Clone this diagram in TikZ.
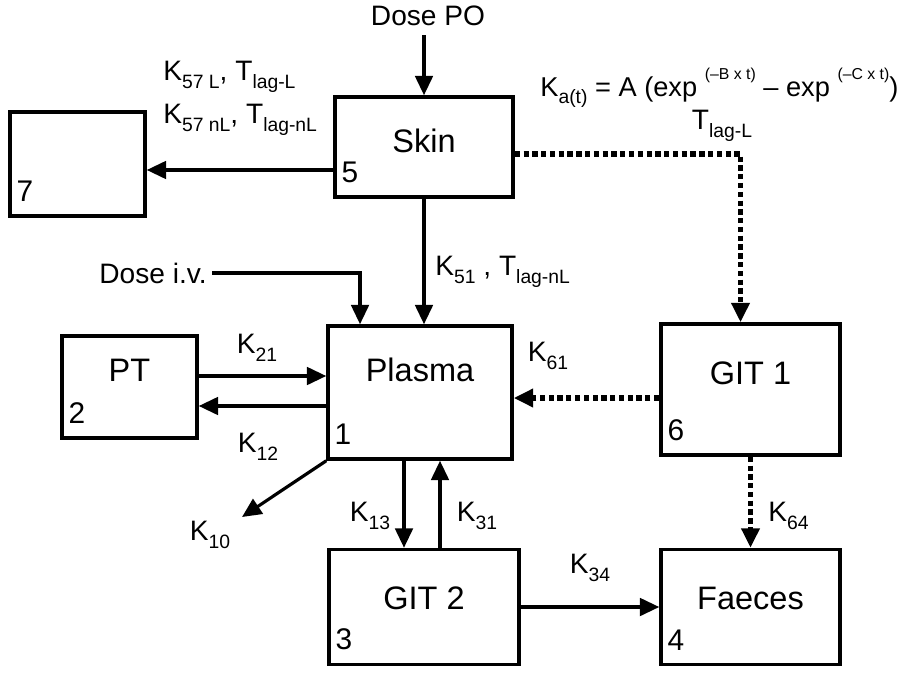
\documentclass[tikz,border=0pt]{standalone}
\usepackage{fontspec}
\setmainfont{Liberation Sans}
\usetikzlibrary{arrows.meta, positioning}
\newcommand{\lowtxt}[1]{\raisebox{-0.5ex}{\fontsize{11}{11}\selectfont #1}}
\newcommand{\hightxt}[1]{\raisebox{1.2ex}{\fontsize{9}{9}\selectfont #1}}

\begin{document}
\begin{tikzpicture}[
    x=0.02cm, y=-0.02cm,
    box/.style={draw, line width=2pt, inner sep=0pt},
    ttl/.style={font=\fontsize{18.5}{21}\selectfont, inner sep=0pt},
    num/.style={font=\fontsize{17}{20}\selectfont, anchor=south west,
                inner xsep=4.5pt, inner ysep=9pt},
    lbl/.style={font=\fontsize{16}{19}\selectfont, inner sep=0pt},
    arr/.style={-{Triangle[length=11pt, width=10pt]}, line width=1.8pt},
    dot/.style={arr, line width=3pt, dash pattern=on 3pt off 2pt}
]
    \useasboundingbox (0,0) rectangle (911,696);

    \node[box, minimum width=2.70cm, minimum height=2.08cm] (n7)     at (77.5,164)   {};
    \node[box, minimum width=3.56cm, minimum height=2.00cm] (skin)   at (424,147)    {};
    \node[box, minimum width=2.70cm, minimum height=2.04cm] (pt)     at (129.5,387)  {};
    \node[box, minimum width=3.68cm, minimum height=2.66cm] (plasma) at (420,392.5)  {};
    \node[box, minimum width=3.58cm, minimum height=2.62cm] (git1)   at (750.5,389.5){};
    \node[box, minimum width=3.80cm, minimum height=2.30cm] (git2)   at (424,607)    {};
    \node[box, minimum width=3.58cm, minimum height=2.30cm] (faeces) at (750.5,607)  {};

    \node[ttl] (tskin)   at ([yshift=-0.92cm]skin.north)   {Skin};
    \node[ttl] (tpt)     at ([yshift=-0.72cm]pt.north)     {PT};
    \node[ttl] (tplasma) at ([yshift=-0.92cm]plasma.north) {Plasma};
    \node[ttl] (tgit1)   at ([yshift=-1.02cm]git1.north)   {GIT 1};
    \node[ttl] (tgit2)   at ([yshift=-1.02cm]git2.north)   {GIT 2};
    \node[ttl] (tfaeces) at ([yshift=-1.02cm]faeces.north) {Faeces};

    \node[num] (c7) at (n7.south west)     {7};
    \node[num] (c5) at (skin.south west)   {5};
    \node[num] (c2) at (pt.south west)     {2};
    \node[num] (c1) at (plasma.south west) {1};
    \node[num] (c6) at (git1.south west)   {6};
    \node[num] (c3) at (git2.south west)   {3};
    \node[num] (c4) at (faeces.south west) {4};

    \node[lbl] (dosepo) at (428,16)  {Dose PO};
    \node[lbl] (doseiv) at (153,273) {Dose i.v.};

    \node[lbl, anchor=west] (k57l)  at (163,77)
        {K\lowtxt{57 L}, T\lowtxt{lag-L}};
    \node[lbl, anchor=west] (k57nl) at (163,120)
        {K\lowtxt{57 nL}, T\lowtxt{lag-nL}};
    \node[lbl, anchor=west, font=\fontsize{15.5}{18}\selectfont] (ka) at (540,88)
        {K\lowtxt{a(t)} = A (exp \hightxt{(–B x t)} – exp \hightxt{(–C x t)})};
    \node[lbl] (tlagl) at (722,126) {T\lowtxt{lag-L}};
    \node[lbl, anchor=west] (k51) at (435,272) {K\lowtxt{51} , T\lowtxt{lag-nL}};
    \node[lbl] (k21) at (257,348) {K\lowtxt{21}};
    \node[lbl] (k12) at (258,447) {K\lowtxt{12}};
    \node[lbl] (k10) at (210,535) {K\lowtxt{10}};
    \node[lbl] (k13) at (370,516) {K\lowtxt{13}};
    \node[lbl] (k31) at (477,516) {K\lowtxt{31}};
    \node[lbl] (k61) at (548,356) {K\lowtxt{61}};
    \node[lbl, anchor=west] (k64) at (768,516) {K\lowtxt{64}};
    \node[lbl] (k34) at (590,568) {K\lowtxt{34}};

    \coordinate (s7) at ([yshift=-0.46cm]skin.west);
    \coordinate (sg) at ([yshift=-0.14cm]skin.east);
    \coordinate (gt) at ([xshift=-0.2cm]git1.north);
    \coordinate (gp) at ([yshift=-0.17cm]git1.west);
    \coordinate (pp) at ([yshift=0.22cm]pt.east);
    \coordinate (pq) at ([yshift=-0.38cm]pt.east);
    \coordinate (pg) at ([xshift=-0.32cm]plasma.south);
    \coordinate (gq) at ([xshift=0.4cm]plasma.south);
    \coordinate (iv) at ([xshift=-1.2cm]plasma.north);
    \coordinate (ke) at (242,517);

    \draw[arr, shorten <=5pt] (dosepo.south -| skin.north) -- (skin.north);
    \draw[arr] (s7) -- (s7 -| n7.east);
    \draw[arr] (skin.south) -- (skin.south |- plasma.north);
    \draw[arr, shorten <=3pt] (doseiv.east) -| (iv);
    \draw[dot] (sg) -| (gt);
    \draw[dot] (gp) -- (gp -| plasma.east);
    \draw[arr] (pp) -- (pp -| plasma.west);
    \draw[arr] (pq -| plasma.west) -- (pq);
    \draw[arr] (plasma.south west) -- (ke);
    \draw[arr] (pg) -- (pg |- git2.north);
    \draw[arr] (gq |- git2.north) -- (gq);
    \draw[arr] (git2.east) -- (faeces.west);
    \draw[dot] (git1.south) -- (faeces.north);
\end{tikzpicture}
\end{document}
